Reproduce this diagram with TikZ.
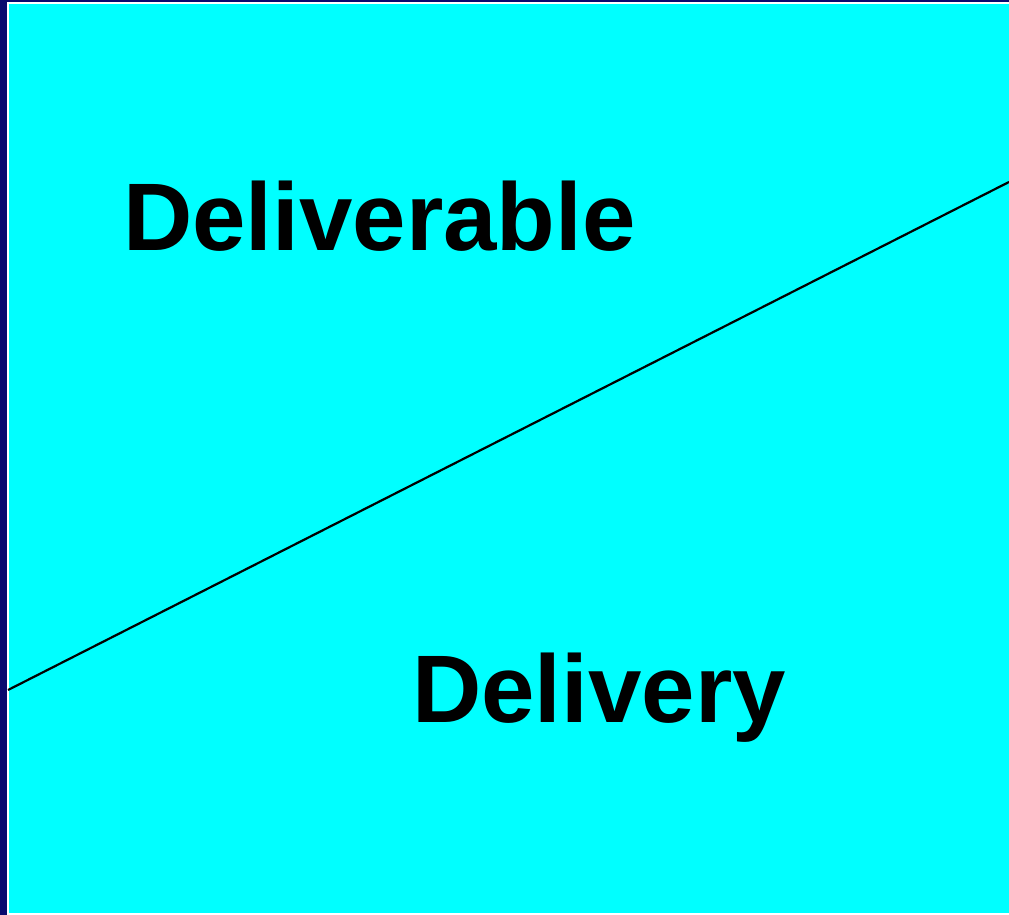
\documentclass[tikz,border=0pt]{standalone}
\usepackage{fontspec}
\setmainfont{Liberation Sans}
\definecolor{navyedge}{RGB}{10,10,110}
\definecolor{panelcyan}{RGB}{0,255,255}
\tikzset{bigword/.style={font=\fontsize{96}{110}\selectfont\bfseries, inner sep=0pt, anchor=base west}}
\begin{document}
\begin{tikzpicture}[x=1pt,y=-1pt]
\useasboundingbox (0,0) rectangle (1009,915);
\fill[white] (0,0) rectangle (1009,915);
\fill[navyedge] (0,0) rectangle (1009,2);
\fill[navyedge] (0,0) rectangle (7,915);
\fill[panelcyan] (9,4.5) rectangle (1009,913);
\coordinate (lstart) at (8,690);
\coordinate (lend) at (1009,182);
\draw[line width=2.2pt] (lstart) -- (lend);
\node[bigword] (deliverable) at (123,250) {Deliverable};
\node[bigword] (delivery) at (412,722) {Delivery};
\end{tikzpicture}
\end{document}
